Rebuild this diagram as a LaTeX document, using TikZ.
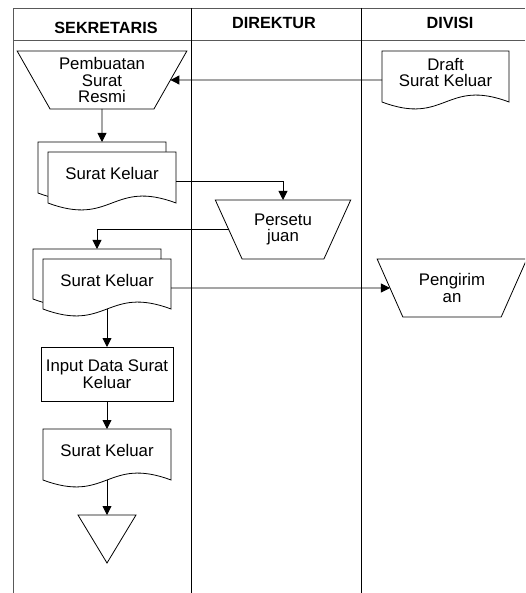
\documentclass[tikz,border=0pt]{standalone}
\usepackage{fontspec}
\setmainfont{Liberation Sans}
\usetikzlibrary{shapes.geometric,arrows.meta,calc,backgrounds}

% outline of a document sheet drawn around a named node (wavy bottom edge)
\newcommand{\docsheet}[1]{%
  \begin{pgfonlayer}{background}
    \path[docoutline] (#1.north west) -- (#1.north east) -- (#1.south east)
      .. controls ($(#1.south)+(0,-24)$) and ($(#1.south)+(0,24)$) .. (#1.south west) -- cycle;
  \end{pgfonlayer}}

\begin{document}
\begin{tikzpicture}[x=1pt,y=-1pt,
  every node/.style={font=\fontsize{16.8}{16.5}\selectfont, align=center, inner sep=0pt, outer sep=0pt},
  header/.style={font=\bfseries\fontsize{16.2}{16}\selectfont},
  frameline/.style={line width=0.9pt, black!65},
  laneline/.style={line width=0.9pt, black},
  flowline/.style={line width=0.9pt, -{Triangle[length=9pt,width=9pt]}},
  manualop/.style={trapezium, shape border rotate=180, trapezium left angle=59,
    trapezium right angle=59, trapezium stretches=true, draw, line width=0.8pt, fill=white},
  procbox/.style={rectangle, draw, line width=0.8pt, fill=white, minimum width=132pt, minimum height=54pt},
  docnode/.style={rectangle, minimum width=128pt, minimum height=51pt, text depth=8pt},
  docoutline/.style={draw, line width=0.8pt, fill=white},
  stopmark/.style={draw, line width=0.8pt, fill=white}
]
\useasboundingbox (0,0) rectangle (525,593);
\clip (0,0) rectangle (525,593);

% swimlane frame
\draw[frameline] (13,593) -- (13,8) -- (525,8);
\draw[frameline] (13,40) -- (525,40);
\draw[laneline] (191,8) -- (191,593);
\draw[laneline] (361,8) -- (361,593);

% lane headers
\node[header] (hsek) at (106,27.5) {SEKRETARIS};
\node[header] (hdir) at (274,23) {DIREKTUR};
\node[header] (hdiv) at (450,23) {DIVISI};

% SEKRETARIS lane
\node[manualop, minimum width=170pt, minimum height=58pt] (pem) at (102,80) {Pembuatan\\Surat\\Resmi};

\node[docnode] (doc1b) at (102,167.5) {};
\docsheet{doc1b}
\node[docnode] (doc1) at (112,177.5) {Surat Keluar};
\docsheet{doc1}

\node[docnode, minimum height=50pt] (doc2b) at (97,274) {};
\docsheet{doc2b}
\node[docnode, minimum height=50pt] (doc2) at (107,284) {Surat Keluar};
\docsheet{doc2}

\node[procbox] (input) at (107,374) {Input Data Surat\\Keluar};

\node[docnode] (doc3) at (107,454.5) {Surat Keluar};
\docsheet{doc3}

\coordinate (stoptop) at (107,515);
\draw[stopmark] (78,515) -- (136,515) -- (107,563) -- cycle;

% DIREKTUR lane
\node[manualop, minimum width=136pt, minimum height=59pt] (per) at (283,229.5) {Persetu\\juan};

% DIVISI lane
\node[docnode, minimum width=127pt] (draft) at (445.5,76.5) {Draft\\Surat Keluar};
\docsheet{draft}
\node[manualop, minimum width=150pt, minimum height=58pt] (peng) at (452,288) {Pengirim\\an};

% flow connectors
\draw[flowline] (draft.west |- pem) -- (pem);
\draw[flowline] (pem.south) -- (doc1b.north);
\draw[flowline] ($(doc1.east)+(0,3.5)$) -| (per);
\draw[flowline] (per) -| (doc2b);
\draw[flowline] ($(doc2.east)+(0,4)$) -- (peng);
\draw[flowline] (doc2.south) -- (input.north);
\draw[flowline] (input.south) -- (doc3.north);
\draw[flowline] (doc3.south) -- (stoptop);
\end{tikzpicture}
\end{document}
